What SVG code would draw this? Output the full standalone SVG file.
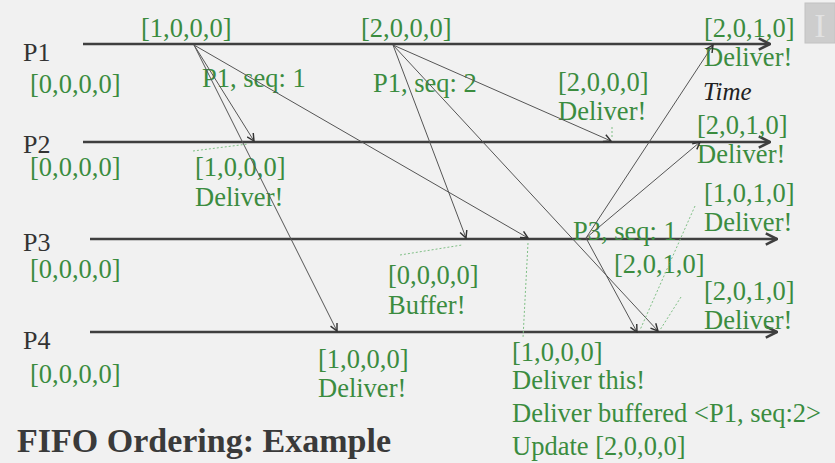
<svg xmlns="http://www.w3.org/2000/svg" width="835" height="463" viewBox="0 0 835 463">
<defs>
<style>
text{font-family:"Liberation Serif","Times New Roman",serif;}
.g{fill:#3b8c3f;font-size:26.5px;}
.p{fill:#333;font-size:26px;}
.tl{stroke:#3f3f3f;stroke-width:2.6;fill:none;}
.msg{stroke:#555;stroke-width:1;fill:none;}
.dot{stroke:#7fbf85;stroke-width:1;stroke-dasharray:2 2;fill:none;}
</style>
<marker id="ah" viewBox="0 0 10 10" refX="9" refY="5" markerWidth="9" markerHeight="9" markerUnits="userSpaceOnUse" orient="auto">
<path d="M1,1 L9,5 L1,9" fill="none" stroke="#333" stroke-width="1.6"/>
</marker>
<marker id="tah" viewBox="0 0 10 10" refX="9" refY="5" markerWidth="14" markerHeight="14" markerUnits="userSpaceOnUse" orient="auto">
<path d="M1,1 L9,5 L1,9" fill="none" stroke="#3f3f3f" stroke-width="1.8"/>
</marker>
</defs>
<rect width="835" height="463" fill="#f1f1f1"/>
<g id="logo">
<rect x="805" y="3" width="30" height="40" fill="#cdcdcd" stroke="#c2c2c2"/>
<text x="820" y="37" font-size="34" fill="#e2e2e2" text-anchor="middle">I</text>
</g>
<g id="P1">
<line class="tl" x1="83" y1="44" x2="770" y2="44" marker-end="url(#tah)"/>
<text class="p" x="23" y="61">P1</text>
<text class="g" x="30" y="93">[0,0,0,0]</text>
<text class="g" x="141" y="37">[1,0,0,0]</text>
<text class="g" x="361" y="37">[2,0,0,0]</text>
<text class="g" x="202" y="87">P1, seq: 1</text>
<text class="g" x="373" y="92">P1, seq: 2</text>
<text class="g" x="704" y="37">[2,0,1,0]</text>
<text class="g" x="704" y="66">Deliver!</text>
<text x="703" y="100" font-size="25" font-style="italic" fill="#222">Time</text>
</g>
<g id="P2">
<line class="tl" x1="83" y1="142" x2="770" y2="142" marker-end="url(#tah)"/>
<text class="p" x="23" y="153">P2</text>
<text class="g" x="30" y="176">[0,0,0,0]</text>
<text class="g" x="195" y="176">[1,0,0,0]</text>
<text class="g" x="195" y="206">Deliver!</text>
<text class="g" x="558" y="91">[2,0,0,0]</text>
<text class="g" x="558" y="120">Deliver!</text>
<text class="g" x="697" y="134">[2,0,1,0]</text>
<text class="g" x="697" y="163">Deliver!</text>
</g>
<g id="P3">
<line class="tl" x1="90" y1="239" x2="777" y2="239" marker-end="url(#tah)"/>
<text class="p" x="23" y="251">P3</text>
<text class="g" x="30" y="278">[0,0,0,0]</text>
<text class="g" x="388" y="284">[0,0,0,0]</text>
<text class="g" x="388" y="314">Buffer!</text>
<text class="g" x="573" y="240">P3, seq: 1</text>
<text class="g" x="614" y="273">[2,0,1,0]</text>
<text class="g" x="704" y="202">[1,0,1,0]</text>
<text class="g" x="704" y="231">Deliver!</text>
</g>
<g id="P4">
<line class="tl" x1="90" y1="332" x2="777" y2="332" marker-end="url(#tah)"/>
<text class="p" x="23" y="349">P4</text>
<text class="g" x="30" y="383">[0,0,0,0]</text>
<text class="g" x="318" y="368">[1,0,0,0]</text>
<text class="g" x="318" y="397">Deliver!</text>
<text class="g" x="704" y="300">[2,0,1,0]</text>
<text class="g" x="704" y="329">Deliver!</text>
<text class="g" x="512" y="361">[1,0,0,0]</text>
<text class="g" x="512" y="389">Deliver this!</text>
<text class="g" x="512" y="422">Deliver buffered &lt;P1, seq:2&gt;</text>
<text class="g" x="512" y="455">Update [2,0,0,0]</text>
</g>
<g id="connectors">
<line class="msg" x1="194" y1="45" x2="254" y2="141" marker-end="url(#ah)"/>
<line class="msg" x1="194" y1="45" x2="337" y2="331" marker-end="url(#ah)"/>
<line class="msg" x1="194" y1="45" x2="528" y2="238" marker-end="url(#ah)"/>
<line class="msg" x1="393" y1="45" x2="611" y2="141" marker-end="url(#ah)"/>
<line class="msg" x1="393" y1="45" x2="466" y2="238" marker-end="url(#ah)"/>
<line class="msg" x1="393" y1="45" x2="658" y2="331" marker-end="url(#ah)"/>
<line class="msg" x1="586" y1="238" x2="713" y2="45" marker-end="url(#ah)"/>
<line class="msg" x1="586" y1="238" x2="700" y2="142" marker-end="url(#ah)"/>
<line class="msg" x1="586" y1="238" x2="637" y2="332" marker-end="url(#ah)"/>
<line class="dot" x1="193" y1="151" x2="248" y2="144"/>
<line class="dot" x1="612" y1="127" x2="612" y2="139"/>
<line class="dot" x1="400" y1="255" x2="462" y2="245"/>
<line class="dot" x1="528" y1="243" x2="523" y2="338"/>
<line class="dot" x1="695" y1="206" x2="640" y2="330"/>
<line class="dot" x1="681" y1="297" x2="660" y2="330"/>
</g>
<text x="17" y="452" font-size="34" font-weight="bold" fill="#3a3a3a">FIFO Ordering: Example</text>
</svg>
